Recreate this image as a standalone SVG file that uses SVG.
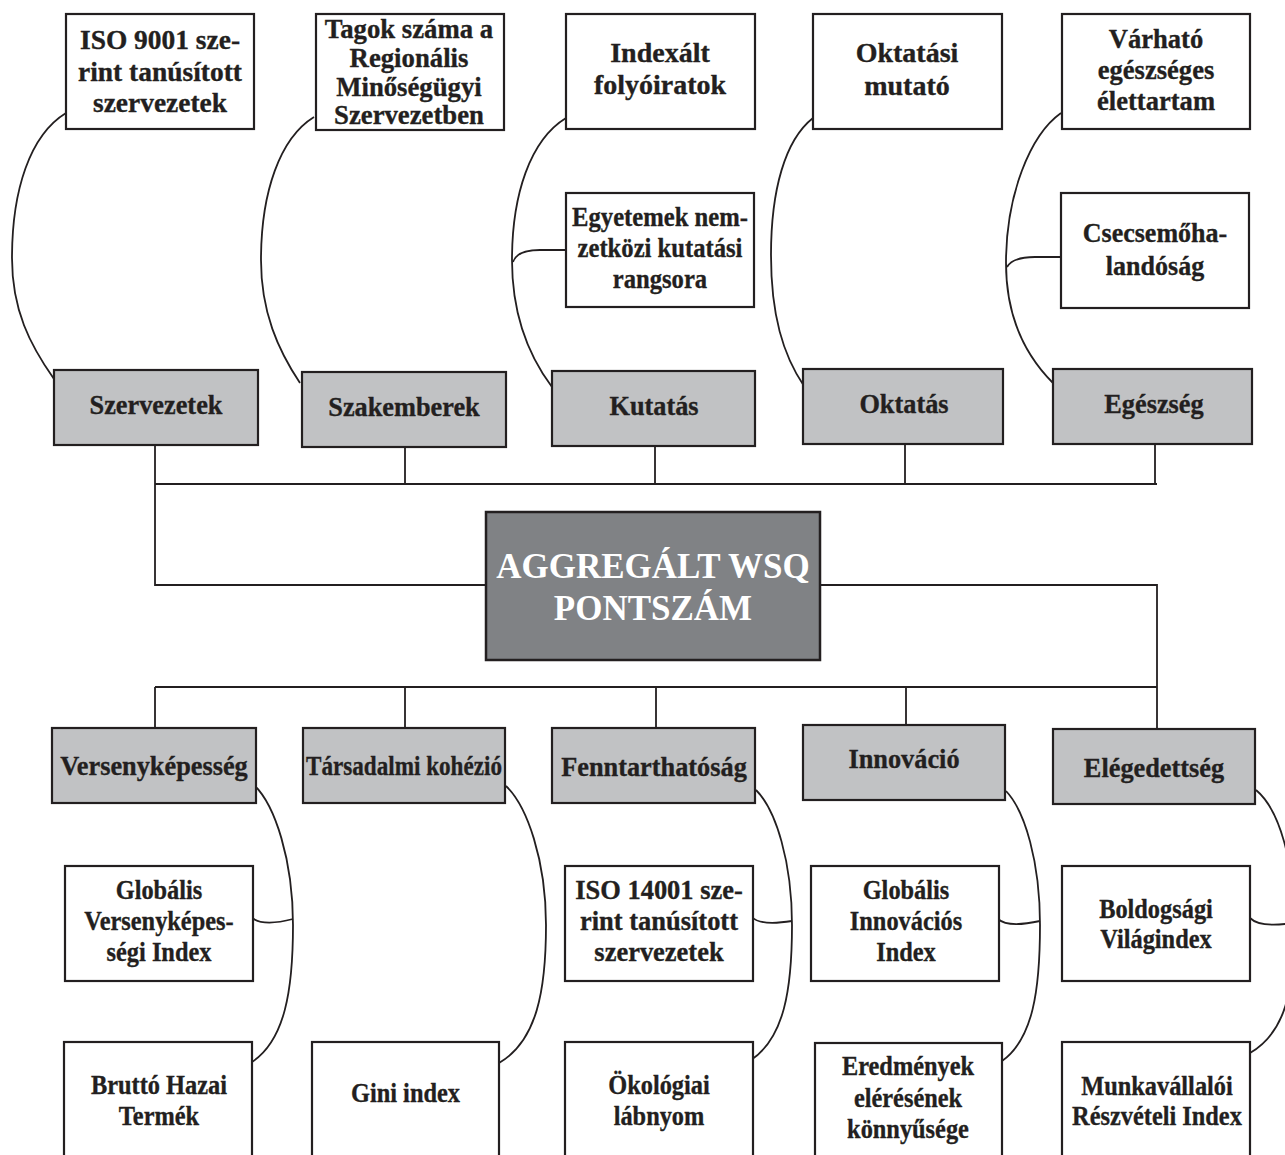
<svg xmlns="http://www.w3.org/2000/svg" width="1285" height="1155" viewBox="0 0 1285 1155">
<style>
.w{fill:#ffffff;stroke:#231f20;stroke-width:2.2}
.g{fill:#c1c2c4;stroke:#231f20;stroke-width:2.2}
.c{fill:#808285;stroke:#231f20;stroke-width:2.5}
.t{font-family:"Liberation Serif","Times New Roman",serif;font-weight:bold;font-size:28px;fill:#231f20;stroke:#231f20;stroke-width:0.35;text-anchor:middle}
.ct{font-family:"Liberation Serif","Times New Roman",serif;font-weight:bold;font-size:35px;fill:#ffffff;text-anchor:middle}
.ln{fill:none;stroke:#231f20;stroke-width:1.8}
</style>
<rect width="1285" height="1155" fill="#ffffff"/>
<g id="connectors" class="ln">
<path d="M155,445 V484 M405,447 V484 M655,446 V484 M905,444 V484 M1155,444 V484 M155,484 H1157"/>
<path d="M155,484 V585 H486 M820,585 H1157 V687"/>
<path d="M155,687 H1157 M155,687 V728 M405,687 V728 M656,687 V728 M906,687 V725 M1157,687 V729"/>
<path d="M66,113 C30,135 12,190 12,258 C12,310 30,345 54,379"/>
<path d="M314,117 C280,138 261,192 261,260 C261,312 278,350 300,383"/>
<path d="M566,118 C530,140 512,195 512,260 C512,315 528,355 552,387"/>
<path d="M513,262 Q517,250 540,250 L566,250"/>
<path d="M813,118 C785,140 771,190 771,255 C771,315 783,355 804,386"/>
<path d="M1061,113 C1030,135 1006,195 1006,263 C1006,315 1025,355 1053,383"/>
<path d="M1007,267 Q1013,257 1035,257 L1061,257"/>
<path d="M254,785 C275,805 293,860 293,925 C293,990 285,1040 252,1062"/>
<path d="M251,917 Q262,927 293,919"/>
<path d="M506,786 C527,806 546,860 546,925 C546,990 537,1041 499,1063"/>
<path d="M756,790 C776,810 792,862 792,925 C792,990 784,1038 751,1060"/>
<path d="M752,917 Q760,926 792,921"/>
<path d="M1006,791 C1025,811 1040,862 1040,925 C1040,990 1033,1039 1002,1061"/>
<path d="M998,919 Q1008,928 1040,921"/>
<path d="M1256,790 C1280,810 1294,862 1294,925 C1294,990 1286,1032 1250,1053"/>
<path d="M1250,918 Q1260,928 1293,923"/>
</g>
<g id="n-iso9001"><rect class="w" x="66" y="14" width="188" height="115"/>
<g transform="matrix(0.98 0 0 1 3.2 0)"><text class="t" x="160" y="49">ISO 9001 sze-</text><text class="t" x="160" y="81">rint tanúsított</text><text class="t" x="160" y="112">szervezetek</text></g></g>
<g id="n-tagok"><rect class="w" x="316" y="14" width="188" height="116"/>
<g transform="matrix(0.955 0 0 1 18.4 0)"><text class="t" x="409" y="38">Tagok száma a</text><text class="t" x="409" y="67">Regionális</text><text class="t" x="409" y="96">Minőségügyi</text><text class="t" x="409" y="124">Szervezetben</text></g></g>
<g id="n-indexalt"><rect class="w" x="566" y="14" width="189" height="115"/>
<text class="t" x="660" y="62">Indexált</text><text class="t" x="660" y="94">folyóiratok</text></g>
<g id="n-oktmut"><rect class="w" x="813" y="14" width="189" height="115"/>
<text class="t" x="907" y="62">Oktatási</text><text class="t" x="907" y="95">mutató</text></g>
<g id="n-varhato"><rect class="w" x="1062" y="14" width="188" height="115"/>
<g transform="matrix(0.95 0 0 1 57.8 0)"><text class="t" x="1156" y="48">Várható</text><text class="t" x="1156" y="79">egészséges</text><text class="t" x="1156" y="110">élettartam</text></g></g>
<g id="n-egyetemek"><rect class="w" x="566" y="193" width="188" height="114"/>
<g transform="matrix(0.88 0 0 1 79.2 0)"><text class="t" x="660" y="226">Egyetemek nem-</text><text class="t" x="660" y="257">zetközi kutatási</text><text class="t" x="660" y="288">rangsora</text></g></g>
<g id="n-csecsemo"><rect class="w" x="1061" y="193" width="188" height="115"/>
<g transform="matrix(0.93 0 0 1 80.85 0)"><text class="t" x="1155" y="242">Csecsemőha-</text><text class="t" x="1155" y="275">landóság</text></g></g>
<g id="n-szervezetek"><rect class="g" x="54" y="370" width="204" height="75"/><text class="t" x="156" y="414" transform="matrix(0.94 0 0 1 9.36 0)">Szervezetek</text></g>
<g id="n-szakemberek"><rect class="g" x="302" y="372" width="204" height="75"/><text class="t" x="404" y="416" transform="matrix(0.94 0 0 1 24.24 0)">Szakemberek</text></g>
<g id="n-kutatas"><rect class="g" x="552" y="371" width="203" height="75"/><text class="t" x="654" y="415" transform="matrix(0.94 0 0 1 39.24 0)">Kutatás</text></g>
<g id="n-oktatas"><rect class="g" x="803" y="369" width="200" height="75"/><text class="t" x="904" y="413" transform="matrix(0.94 0 0 1 54.24 0)">Oktatás</text></g>
<g id="n-egeszseg"><rect class="g" x="1053" y="369" width="199" height="75"/><text class="t" x="1154" y="413" transform="matrix(0.94 0 0 1 69.24 0)">Egészség</text></g>
<g id="n-center"><rect class="c" x="486" y="512" width="334" height="148"/>
<text class="ct" x="653" y="578">AGGREGÁLT WSQ</text><text class="ct" x="653" y="620">PONTSZÁM</text></g>
<g id="n-verseny"><rect class="g" x="52" y="728" width="204" height="75"/><text class="t" x="154" y="775" transform="matrix(0.94 0 0 1 9.24 0)">Versenyképesség</text></g>
<g id="n-tarsadalmi"><rect class="g" x="303" y="728" width="202" height="75"/><text class="t" x="404" y="775" textLength="196" lengthAdjust="spacingAndGlyphs">Társadalmi kohézió</text></g>
<g id="n-fennt"><rect class="g" x="552" y="728" width="203" height="75"/><text class="t" x="654" y="776" transform="matrix(0.94 0 0 1 39.24 0)">Fenntarthatóság</text></g>
<g id="n-innovacio"><rect class="g" x="803" y="725" width="202" height="75"/><text class="t" x="904" y="768" transform="matrix(0.94 0 0 1 54.24 0)">Innováció</text></g>
<g id="n-elegedett"><rect class="g" x="1053" y="729" width="202" height="75"/><text class="t" x="1154" y="777" transform="matrix(0.94 0 0 1 69.24 0)">Elégedettség</text></g>
<g id="n-gvi"><rect class="w" x="65" y="866" width="188" height="115"/>
<g transform="matrix(0.87 0 0 1 20.67 0)"><text class="t" x="159" y="899">Globális</text><text class="t" x="159" y="930">Versenyképes-</text><text class="t" x="159" y="961">ségi Index</text></g></g>
<g id="n-iso14001"><rect class="w" x="565" y="866" width="188" height="115"/>
<g transform="matrix(0.945 0 0 1 36.245 0)"><text class="t" x="659" y="899">ISO 14001 sze-</text><text class="t" x="659" y="930">rint tanúsított</text><text class="t" x="659" y="961">szervezetek</text></g></g>
<g id="n-gii"><rect class="w" x="811" y="866" width="188" height="115"/>
<g transform="matrix(0.87 0 0 1 117.78 0)"><text class="t" x="906" y="899">Globális</text><text class="t" x="906" y="930">Innovációs</text><text class="t" x="906" y="961">Index</text></g></g>
<g id="n-boldog"><rect class="w" x="1062" y="866" width="188" height="115"/>
<g transform="matrix(0.87 0 0 1 150.28 0)"><text class="t" x="1156" y="918">Boldogsági</text><text class="t" x="1156" y="948">Világindex</text></g></g>
<g id="n-brutto"><rect class="w" x="64" y="1042" width="188" height="130"/>
<g transform="matrix(0.87 0 0 1 20.67 0)"><text class="t" x="159" y="1094">Bruttó Hazai</text><text class="t" x="159" y="1125">Termék</text></g></g>
<g id="n-gini"><rect class="w" x="312" y="1042" width="187" height="130"/>
<g transform="matrix(0.87 0 0 1 52.715 0)"><text class="t" x="405.5" y="1102">Gini index</text></g></g>
<g id="n-okolog"><rect class="w" x="565" y="1042" width="188" height="130"/>
<g transform="matrix(0.87 0 0 1 85.67 0)"><text class="t" x="659" y="1094">Ökológiai</text><text class="t" x="659" y="1125">lábnyom</text></g></g>
<g id="n-eredmenyek"><rect class="w" x="815" y="1043" width="187" height="130"/>
<g transform="matrix(0.87 0 0 1 118.04 0)"><text class="t" x="908" y="1075">Eredmények</text><text class="t" x="908" y="1107">elérésének</text><text class="t" x="908" y="1138">könnyűsége</text></g></g>
<g id="n-munka"><rect class="w" x="1062" y="1042" width="188" height="130"/>
<g transform="matrix(0.87 0 0 1 150.41 0)"><text class="t" x="1157" y="1095">Munkavállalói</text><text class="t" x="1157" y="1125">Részvételi Index</text></g></g>
</svg>
